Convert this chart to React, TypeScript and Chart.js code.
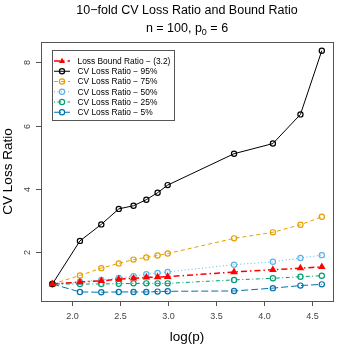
import React, { useEffect, useRef } from "react";
import { Chart, registerables } from "chart.js";

Chart.register(...registerables);

const TITLE = "10−fold CV Loss Ratio and Bound Ratio";
const SUBTITLE = "n = 100, p";
const X_LABEL = "log(p)";
const Y_LABEL = "CV Loss Ratio";

const P = [6, 8, 10, 12, 14, 16, 18, 20, 40, 60, 80, 100];
const BOUND = [1.0, 1.06, 1.1, 1.15, 1.18, 1.21, 1.22, 1.23, 1.38, 1.45, 1.5, 1.54];
const Q95 = [1.0, 2.36, 2.88, 3.37, 3.47, 3.66, 3.88, 4.12, 5.11, 5.43, 6.35, 8.36];
const Q75 = [1.0, 1.27, 1.5, 1.65, 1.77, 1.84, 1.9, 1.96, 2.44, 2.63, 2.87, 3.12];
const Q50 = [1.0, 1.07, 1.13, 1.19, 1.25, 1.31, 1.35, 1.38, 1.61, 1.7, 1.82, 1.91];
const Q25 = [1.0, 1.0, 1.0, 1.01, 1.02, 1.02, 1.02, 1.02, 1.13, 1.18, 1.23, 1.26];
const Q05 = [1.0, 0.75, 0.74, 0.75, 0.75, 0.75, 0.76, 0.77, 0.78, 0.87, 0.95, 0.99];

const LABELS = [
  "Loss Bound Ratio − (3.2)",
  "CV Loss Ratio − 95%",
  "CV Loss Ratio − 75%",
  "CV Loss Ratio − 50%",
  "CV Loss Ratio − 25%",
  "CV Loss Ratio − 5%",
];
const X_TICKS = [2.0, 2.5, 3.0, 3.5, 4.0, 4.5];
const Y_TICKS = [2, 4, 6, 8];

const FONT = "'Liberation Sans', Arial, sans-serif";

export default function App() {
  const ref = useRef<HTMLCanvasElement | null>(null);
  useEffect(() => {
    if (!ref.current) return;
    const xs = P.map((p) => Math.log(p));
    const mk = (vals: number[]) => vals.map((v, i) => ({ x: xs[i], y: v }));
    const styles = [
      { color: "#FF0000", dash: [6, 3, 1.5, 3], point: "triangle", fill: true, width: 1.5, r: 3.2 },
      { color: "#000000", dash: [], point: "circle", fill: false, width: 1, r: 2.6 },
      { color: "#E69F00", dash: [4, 3], point: "circle", fill: false, width: 1, r: 2.6 },
      { color: "#56B4E9", dash: [1, 2.5], point: "circle", fill: false, width: 1, r: 2.6 },
      { color: "#009E73", dash: [1, 2.5, 4, 2.5], point: "circle", fill: false, width: 1, r: 2.6 },
      { color: "#0072B2", dash: [7, 3], point: "circle", fill: false, width: 1, r: 2.6 },
    ];
    const series = [BOUND, Q95, Q75, Q50, Q25, Q05];
    const datasets = series.map((s, i) => ({
      label: LABELS[i],
      data: mk(s),
      borderColor: styles[i].color,
      borderWidth: styles[i].width,
      borderDash: styles[i].dash,
      pointStyle: styles[i].point as any,
      pointRadius: styles[i].r,
      pointBorderWidth: 1.2,
      pointBorderColor: styles[i].color,
      pointBackgroundColor: styles[i].fill ? styles[i].color : "rgba(0,0,0,0)",
      tension: 0,
      fill: false,
    }));

    const deco = {
      id: "deco",
      afterDatasetsDraw(chart: any) {
        const ctx = chart.ctx as CanvasRenderingContext2D;
        const a = chart.chartArea;
        const xs = chart.scales.x;
        const ys = chart.scales.y;
        ctx.save();
        ctx.setLineDash([]);
        // box
        ctx.strokeStyle = "#555555";
        ctx.lineWidth = 1;
        ctx.strokeRect(Math.round(a.left) + 0.5, Math.round(a.top) + 0.5, Math.round(a.right - a.left), Math.round(a.bottom - a.top));
        // x ticks
        ctx.fillStyle = "#444444";
        ctx.font = `9px ${FONT}`;
        ctx.textAlign = "center";
        ctx.textBaseline = "middle";
        X_TICKS.forEach((t) => {
          const px = Math.round(xs.getPixelForValue(t)) + 0.5;
          ctx.beginPath();
          ctx.moveTo(px, a.bottom);
          ctx.lineTo(px, a.bottom + 5);
          ctx.stroke();
          ctx.fillText(t.toFixed(1), px, a.bottom + 16);
        });
        Y_TICKS.forEach((t) => {
          const py = Math.round(ys.getPixelForValue(t)) + 0.5;
          ctx.beginPath();
          ctx.moveTo(a.left, py);
          ctx.lineTo(a.left - 5, py);
          ctx.stroke();
          ctx.save();
          ctx.translate(a.left - 13.5, py);
          ctx.rotate(-Math.PI / 2);
          ctx.fillText(String(t), 0, 0);
          ctx.restore();
        });
        // axis titles
        ctx.fillStyle = "#000000";
        ctx.font = `13.5px ${FONT}`;
        const cx = (a.left + a.right) / 2;
        ctx.fillText(X_LABEL, cx, 337);
        ctx.save();
        ctx.translate(8, (a.top + a.bottom) / 2);
        ctx.rotate(-Math.PI / 2);
        ctx.fillText(Y_LABEL, 0, 0);
        ctx.restore();
        // titles
        ctx.font = `12.5px ${FONT}`;
        ctx.fillText(TITLE, cx, 11);
        const subW = ctx.measureText(SUBTITLE).width;
        ctx.font = `9px ${FONT}`;
        const s0 = ctx.measureText("0").width;
        ctx.font = `12.5px ${FONT}`;
        const rest = " = 6";
        const restW = ctx.measureText(rest).width;
        const total = subW + s0 + restW;
        let sx = cx - total / 2;
        ctx.textAlign = "left";
        ctx.fillText(SUBTITLE, sx, 29);
        sx += subW;
        ctx.font = `9px ${FONT}`;
        ctx.fillText("0", sx, 33);
        sx += s0;
        ctx.font = `12.5px ${FONT}`;
        ctx.fillText(rest, sx, 29);
        // legend
        const lx = 52.5, ly = 50.5, lw = 122, lh = 70;
        ctx.fillStyle = "#ffffff";
        ctx.fillRect(lx, ly, lw, lh);
        ctx.strokeStyle = "#555555";
        ctx.strokeRect(lx, ly, lw, lh);
        ctx.font = `8.4px ${FONT}`;
        ctx.textBaseline = "middle";
        chart.data.datasets.forEach((ds: any, i: number) => {
          const y = 61 + i * 10.25;
          ctx.strokeStyle = ds.borderColor;
          ctx.lineWidth = ds.borderWidth;
          ctx.setLineDash(ds.borderDash);
          ctx.beginPath();
          ctx.moveTo(54, y);
          ctx.lineTo(70, y);
          ctx.stroke();
          ctx.setLineDash([]);
          ctx.lineWidth = 1.2;
          const mx = 62;
          if (ds.pointStyle === "triangle") {
            const r = ds.pointRadius;
            ctx.fillStyle = ds.borderColor;
            ctx.beginPath();
            ctx.moveTo(mx, y - r);
            ctx.lineTo(mx + r * 0.95, y + r * 0.6);
            ctx.lineTo(mx - r * 0.95, y + r * 0.6);
            ctx.closePath();
            ctx.fill();
          } else {
            ctx.beginPath();
            ctx.arc(mx, y, ds.pointRadius, 0, Math.PI * 2);
            ctx.stroke();
          }
          ctx.fillStyle = "#000000";
          ctx.fillText(ds.label, 77.5, y + 0.5);
        });
        ctx.restore();
      },
    };

    const chart = new Chart(ref.current, {
      type: "line",
      data: { datasets },
      options: {
        animation: false,
        responsive: false,
        maintainAspectRatio: false,
        layout: { padding: { top: 42, right: 21, left: 0, bottom: 0 } },
        plugins: { legend: { display: false }, tooltip: { enabled: false }, title: { display: false } },
        scales: {
          x: {
            type: "linear",
            min: 1.673,
            max: 4.722,
            grid: { display: false },
            border: { display: false },
            ticks: { display: false },
            afterFit: (s: any) => { s.height = 53; },
          },
          y: {
            type: "linear",
            min: 0.464,
            max: 8.634,
            grid: { display: false },
            border: { display: false },
            ticks: { display: false },
            afterFit: (s: any) => { s.width = 41; },
          },
        },
      },
      plugins: [deco],
    });
    return () => chart.destroy();
  }, []);
  return (
    <div style={{ position: "fixed", left: 0, top: 0, width: 354, height: 354, background: "#fff" }}>
      <canvas ref={ref} width={354} height={354} style={{ display: "block" }} />
    </div>
  );
}
